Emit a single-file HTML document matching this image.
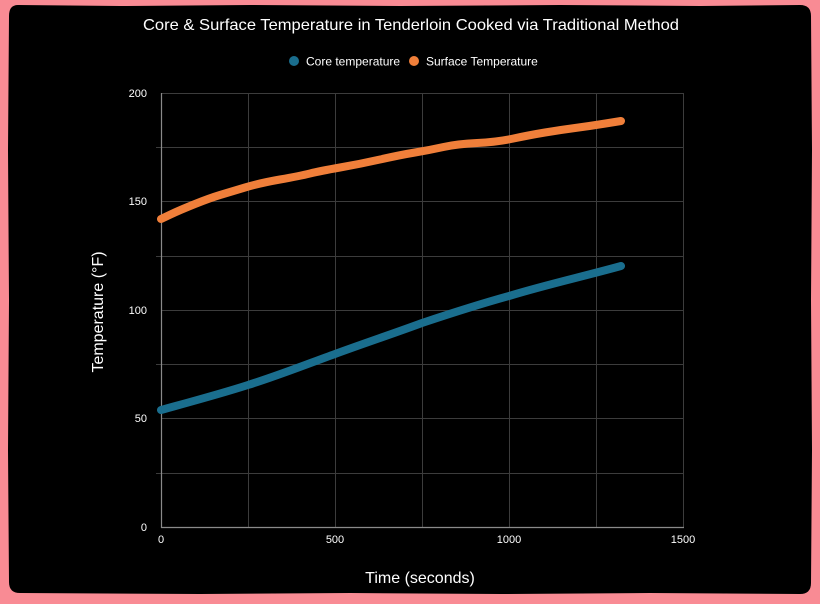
<!DOCTYPE html>
<html><head><meta charset="utf-8"><style>
html,body{margin:0;padding:0;background:#f98b94;}
svg{display:block;}
text{font-family:"Liberation Sans",sans-serif;fill:#fff;}
</style></head><body>
<svg width="820" height="604" viewBox="0 0 820 604" xmlns="http://www.w3.org/2000/svg">
<rect x="0" y="0" width="820" height="604" fill="#f98b94"/>
<path d="M18,5 L120,6 L250,5 L400,6 L560,5 L700,6 L800,5 Q811,5 811,16 L812,150 L811,300 L812,450 L811,583 Q811,594 800,594 L650,593 L500,594 L350,593 L200,594 L20,593 Q9,593 9,582 L8,450 L9,300 L8,150 L9,16 Q9,5 18,5 Z" fill="#000"/>
<text x="143" y="30" font-size="16" textLength="536" lengthAdjust="spacingAndGlyphs">Core &amp; Surface Temperature in Tenderloin Cooked via Traditional Method</text>
<circle cx="294" cy="61" r="5" fill="#1a6e8e"/>
<text x="306" y="65.5" font-size="12">Core temperature</text>
<circle cx="414" cy="61" r="5" fill="#f07f3a"/>
<text x="426" y="65.5" font-size="12">Surface Temperature</text>
<g stroke="#3c3c3c" stroke-width="1">
<line x1="161" y1="93.5" x2="684" y2="93.5"/>
<line x1="156" y1="147.5" x2="684" y2="147.5"/>
<line x1="161" y1="201.5" x2="684" y2="201.5"/>
<line x1="156" y1="256.5" x2="684" y2="256.5"/>
<line x1="161" y1="310.5" x2="684" y2="310.5"/>
<line x1="156" y1="364.5" x2="684" y2="364.5"/>
<line x1="161" y1="418.5" x2="684" y2="418.5"/>
<line x1="156" y1="473.5" x2="684" y2="473.5"/>
<line x1="248.5" y1="93" x2="248.5" y2="527"/>
<line x1="335.5" y1="93" x2="335.5" y2="527"/>
<line x1="422.5" y1="93" x2="422.5" y2="527"/>
<line x1="509.5" y1="93" x2="509.5" y2="527"/>
<line x1="596.5" y1="93" x2="596.5" y2="527"/>
<line x1="683.5" y1="93" x2="683.5" y2="527"/>
</g>
<g stroke="#8a8a8a" stroke-width="1.2">
<line x1="161.5" y1="93" x2="161.5" y2="528"/>
<line x1="161" y1="527.5" x2="684" y2="527.5"/>
</g>
<g font-size="11" text-anchor="end">
<text x="147" y="97">200</text>
<text x="147" y="205">150</text>
<text x="147" y="314">100</text>
<text x="147" y="422">50</text>
<text x="147" y="531">0</text>
</g>
<g font-size="11" text-anchor="middle">
<text x="161" y="543">0</text>
<text x="335" y="543">500</text>
<text x="509" y="543">1000</text>
<text x="683" y="543">1500</text>
</g>
<text x="420" y="583" font-size="16" text-anchor="middle">Time (seconds)</text>
<text transform="translate(103,312) rotate(-90)" font-size="16" text-anchor="middle">Temperature (°F)</text>
<path d="M161,410 C190,402 220,394 248,385 C280,375 310,363 335,354 C365,343 395,333 422,323 C452,313 480,304 509,296 C545,285 585,276 621,266" fill="none" stroke="#1a6e8e" stroke-width="8" stroke-linecap="round" stroke-linejoin="round"/>
<path d="M161,219 L170.5,214.5 Q180,210 195,204 Q210,198 220,195 Q230,192 245,187.5 Q260,183 280,179.5 Q300,176 310,173.5 Q320,171 340,167.5 Q360,164 380,159.5 Q400,155 415,152.5 Q430,150 443.5,147 Q457,144 477,143 Q497,142 513.5,138.5 Q530,135 545,132.5 Q560,130 575,128 Q590,126 605.5,123.5 L621,121" fill="none" stroke="#f07f3a" stroke-width="8" stroke-linecap="round" stroke-linejoin="round"/>
</svg>
</body></html>
